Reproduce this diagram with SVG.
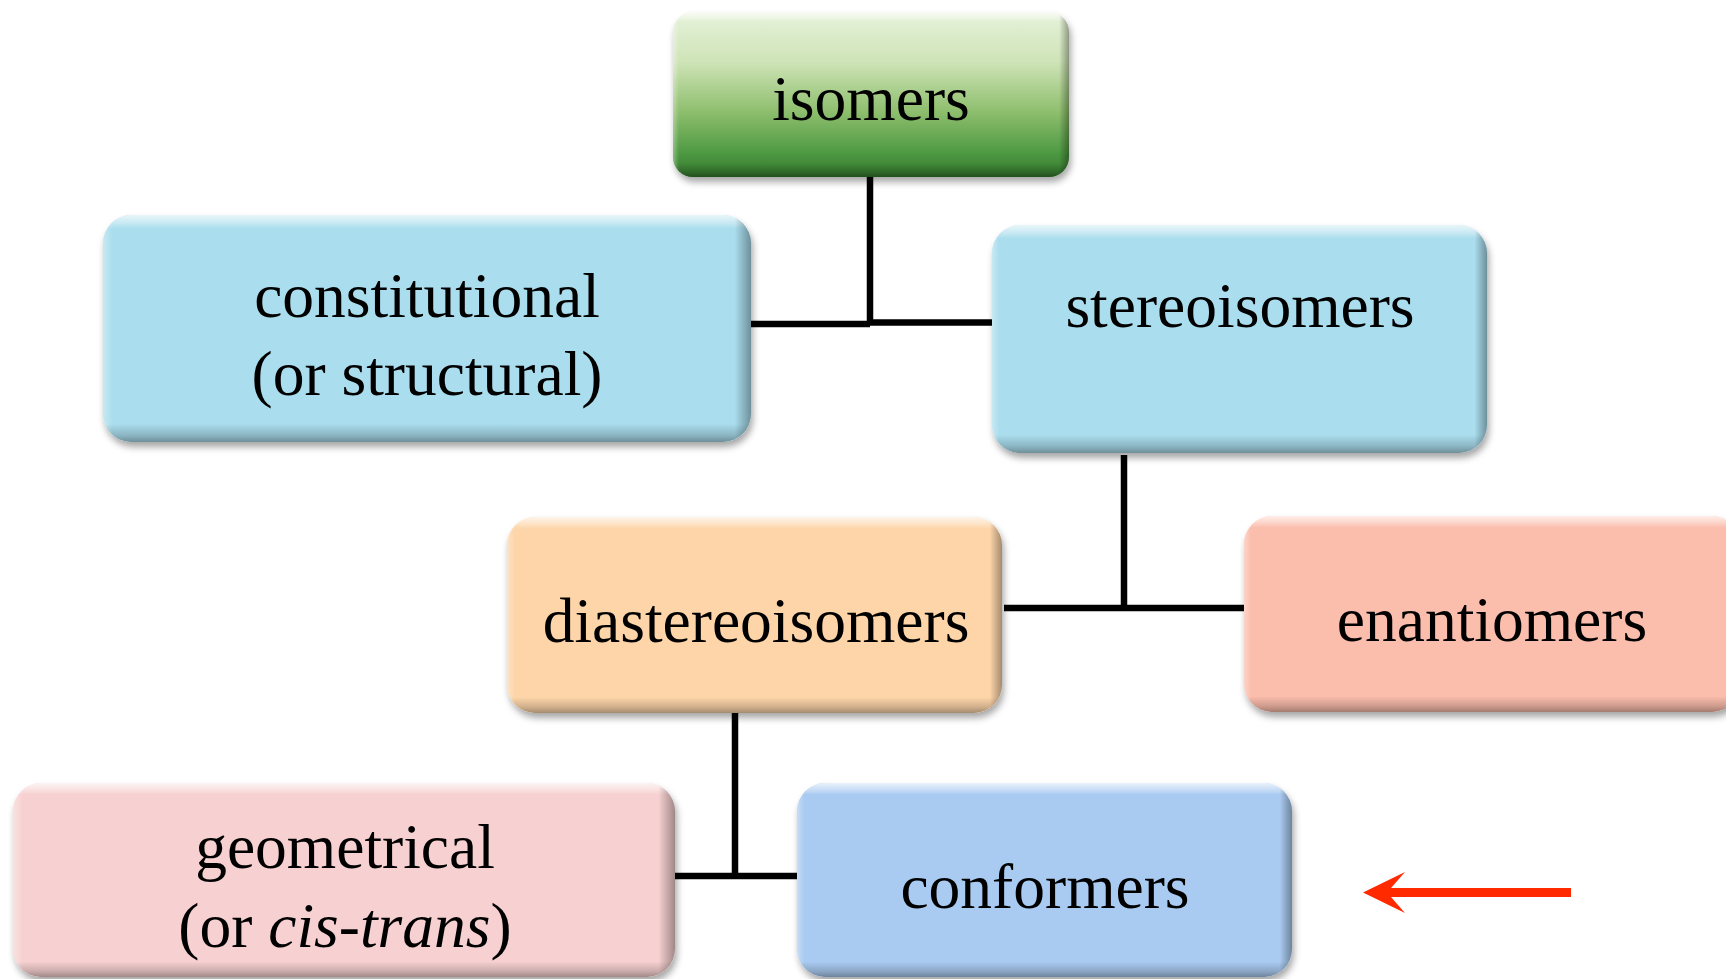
<svg xmlns="http://www.w3.org/2000/svg" width="1726" height="979" viewBox="0 0 1726 979">
<defs>
  <filter id="shadow" x="-10%" y="-10%" width="130%" height="130%">
    <feDropShadow dx="2" dy="5" stdDeviation="3.5" flood-color="#000" flood-opacity="0.35"/>
  </filter>
  <linearGradient id="green" x1="0" y1="0" x2="0" y2="1">
    <stop offset="0" stop-color="#e6f2da"/>
    <stop offset="0.3" stop-color="#cfe4b8"/>
    <stop offset="0.6" stop-color="#8fbf6e"/>
    <stop offset="0.85" stop-color="#4f9a43"/>
    <stop offset="1" stop-color="#33782c"/>
  </linearGradient>
  <linearGradient id="bevelV" x1="0" y1="0" x2="0" y2="1">
    <stop offset="0" stop-color="#fff" stop-opacity="0.75"/>
    <stop offset="0.035" stop-color="#fff" stop-opacity="0.35"/>
    <stop offset="0.06" stop-color="#fff" stop-opacity="0"/>
    <stop offset="0.92" stop-color="#000" stop-opacity="0"/>
    <stop offset="0.97" stop-color="#000" stop-opacity="0.18"/>
    <stop offset="1" stop-color="#000" stop-opacity="0.35"/>
  </linearGradient>
  <linearGradient id="bevelH" x1="0" y1="0" x2="1" y2="0">
    <stop offset="0" stop-color="#fff" stop-opacity="0.35"/>
    <stop offset="0.015" stop-color="#fff" stop-opacity="0"/>
    <stop offset="0.975" stop-color="#000" stop-opacity="0"/>
    <stop offset="1" stop-color="#000" stop-opacity="0.35"/>
  </linearGradient>
</defs>
<style>
  .lbl { font-family: "Liberation Serif", "Times New Roman", serif; font-size: 63.5px; fill: #000; text-anchor: middle; }
  .conn { stroke: #000; stroke-width: 6.5; fill: none; stroke-linecap: butt; }
  .bv { fill: url(#bevelV); }
  .bh { fill: url(#bevelH); }
</style>

<g id="connectors">
  <path class="conn" d="M751,324 H870 M870,177 V325 M868,322.5 H992"/>
  <path class="conn" d="M1124,455 V611 M1004,608 H1244"/>
  <path class="conn" d="M735,713 V879 M675,876 H797"/>
</g>

<g id="isomers">
  <rect x="673" y="12" width="396" height="165" rx="20" fill="url(#green)" filter="url(#shadow)"/>
  <rect class="bv" x="673" y="12" width="396" height="165" rx="20"/>
  <rect class="bh" x="673" y="12" width="396" height="165" rx="20"/>
  <text class="lbl" x="871" y="120">isomers</text>
</g>

<g id="constitutional">
  <rect x="103" y="215" width="648" height="227" rx="28" fill="#aadded" filter="url(#shadow)"/>
  <rect class="bv" x="103" y="215" width="648" height="227" rx="28"/>
  <rect class="bh" x="103" y="215" width="648" height="227" rx="28"/>
  <text class="lbl" x="427" y="317">constitutional</text>
  <text class="lbl" x="427" y="395">(or structural)</text>
</g>

<g id="stereoisomers">
  <rect x="992" y="225" width="495" height="228" rx="28" fill="#aadded" filter="url(#shadow)"/>
  <rect class="bv" x="992" y="225" width="495" height="228" rx="28"/>
  <rect class="bh" x="992" y="225" width="495" height="228" rx="28"/>
  <text class="lbl" x="1240" y="327">stereoisomers</text>
</g>

<g id="diastereoisomers">
  <rect x="507" y="517" width="495" height="196" rx="28" fill="#fdd5a9" filter="url(#shadow)"/>
  <rect class="bv" x="507" y="517" width="495" height="196" rx="28"/>
  <rect class="bh" x="507" y="517" width="495" height="196" rx="28"/>
  <text class="lbl" x="756" y="642">diastereoisomers</text>
</g>

<g id="enantiomers">
  <rect x="1244" y="516" width="496" height="196" rx="28" fill="#fbbdac" filter="url(#shadow)"/>
  <rect class="bv" x="1244" y="516" width="496" height="196" rx="28"/>
  <rect class="bh" x="1244" y="516" width="496" height="196" rx="28"/>
  <text class="lbl" x="1492" y="641">enantiomers</text>
</g>

<g id="geometrical">
  <rect x="13" y="783" width="662" height="194" rx="28" fill="#f7d1d1" filter="url(#shadow)"/>
  <rect class="bv" x="13" y="783" width="662" height="194" rx="28"/>
  <rect class="bh" x="13" y="783" width="662" height="194" rx="28"/>
  <text class="lbl" x="345" y="868">geometrical</text>
  <text class="lbl" x="345" y="947">(or <tspan font-style="italic">cis-trans</tspan>)</text>
</g>

<g id="conformers">
  <rect x="797" y="783" width="495" height="194" rx="28" fill="#aacbf1" filter="url(#shadow)"/>
  <rect class="bv" x="797" y="783" width="495" height="194" rx="28"/>
  <rect class="bh" x="797" y="783" width="495" height="194" rx="28"/>
  <text class="lbl" x="1045" y="908">conformers</text>
</g>

<g id="pointer">
  <polygon fill="#ff2a00" points="1363,892.5 1405,872 1391,888 1571,888 1571,897 1391,897 1405,913"/>
</g>
</svg>
